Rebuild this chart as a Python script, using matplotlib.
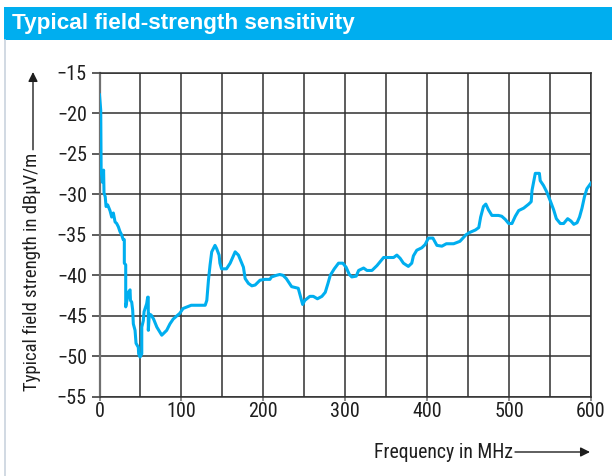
import matplotlib.pyplot as plt
from matplotlib.patches import Rectangle
from matplotlib.lines import Line2D

plt.rcParams['font.family'] = ['Roboto Condensed', 'Roboto', 'DejaVu Sans']

# frequency (MHz) and typical field strength (dBµV/m)
freq = [0, 1.5, 1.8, 2, 3.5, 5, 5.5, 7, 8, 10, 12.8, 14.9, 16.9, 19, 21, 23, 25, 27,
        29, 30.3, 30.3, 32, 32, 33.5, 35.2, 37.3, 37.8, 39.3, 40.5, 41.3, 43.4,
        44.6, 47.4, 47.8, 49.5, 51.6, 51.6, 53.5, 54.4, 57.6, 58.8, 59.5, 59.6,
        60.8, 63, 66, 70, 76, 82, 86, 90, 98, 102, 112, 129, 131, 133, 135, 137,
        141, 143, 146, 147, 149, 155, 159.5, 165.6, 169.6, 175.7, 177.8, 181.8,
        186, 190, 196, 202, 208, 210, 216, 220, 224, 228, 234.5, 242.6, 245.5,
        248, 250.6, 256.8, 261, 266, 271.5, 275.6, 278.9, 281.7, 286.6, 291.8,
        297, 301, 305, 308, 313.4, 316.3, 322.4, 326.5, 332.6, 338.7, 346.8, 359,
        363, 367, 371, 377, 381.2, 383.2, 387.3, 393.4, 397.5, 401.5, 407, 411.9,
        418, 423.4, 432.3, 440, 447.3, 452, 458.9, 463, 465.3, 468.7, 471.6,
        474.8, 479, 487, 491, 495.4, 499.5, 503.5, 507.6, 511.7, 517.8, 524, 527,
        528, 532, 537, 538, 542, 546, 550.3, 554.4, 557.7, 562.5, 566.6, 571.5,
        575.6, 579, 583, 586, 589, 592, 595, 600]
level = [-17.7, -19.6, -24, -27.0, -28.5, -27, -29.8, -30.3, -31.5, -31.3, -32,
         -32.8, -32.3, -33.4, -33.6, -34, -34.6, -35, -35.6, -35.6, -38.5, -38.7,
         -43.9, -43.1, -42.1, -41.8, -43.1, -43.3, -44.3, -46, -46.8, -48.4,
         -48.9, -49.7, -50.1, -49.7, -46.4, -45.6, -44.5, -43.5, -42.7, -42.7,
         -46.8, -44.8, -44.9, -45.4, -46.4, -47.4, -46.8, -46, -45.4, -44.7,
         -44.1, -43.7, -43.7, -43.1, -40.6, -38.7, -37.1, -36.3, -36.7, -37.5,
         -38.5, -39.2, -39.2, -38.5, -37.1, -37.5, -39, -40.4, -41, -41.3, -41.2,
         -40.6, -40.5, -40.5, -40.2, -40, -39.9, -40, -40.4, -41.4, -41.6, -42.7,
         -43.6, -43.1, -42.6, -42.6, -42.9, -42.6, -42.1, -41, -40, -39.2, -38.5,
         -38.5, -39, -39.9, -40.2, -40.1, -39.4, -39.1, -39.4, -39.4, -38.8,
         -37.8, -37.8, -37.5, -37.9, -38.5, -38.9, -38.5, -37.6, -36.9, -36.6,
         -36.2, -35.4, -35.4, -36.3, -36.4, -36.1, -36.1, -35.8, -35, -34.7,
         -34.4, -34.1, -32.8, -31.5, -31.2, -31.9, -32.6, -32.6, -32.7, -33.1,
         -33.6, -33.6, -32.7, -32, -31.7, -31.2, -30.9, -29.5, -27.4, -27.4,
         -28.3, -28.9, -29.7, -30.8, -31.9, -33, -33.6, -33.6, -33, -33.3, -33.7,
         -33.5, -32.8, -31.7, -30.3, -29.3, -28.6]

x_ticks = [0, 100, 200, 300, 400, 500, 600]
y_ticks = [-15, -20, -25, -30, -35, -40, -45, -50, -55]

W, H = 612, 476
blue = '#00aeef'
grid_col = '#303030'
txt_col = '#1e1e1e'

fig = plt.figure(figsize=(W / 100, H / 100), dpi=100)
fig.patch.set_facecolor('white')

# header bar and thin left border
fig.add_artist(Rectangle((4 / W, 1 - 40 / H), 1, 33 / H, transform=fig.transFigure,
                         facecolor=blue, edgecolor='none'))
fig.add_artist(Line2D([5 / W, 5 / W], [0, 1 - 40 / H], transform=fig.transFigure,
                      color='#c9d3de', lw=1.2))
fig.text(12 / W, 1 - 24 / H, 'Typical field-strength sensitivity', color='white',
         fontsize=16.2, fontweight='bold', va='center', ha='left',
         family=['Liberation Sans', 'DejaVu Sans'])

ax = fig.add_axes([99.5 / W, 1 - 396.7 / H, 491.5 / W, 323.7 / H])
ax.plot(freq, level, color=blue, lw=2.2, solid_joinstyle='round', zorder=3)

ax.set_xlim(0, 600)
ax.set_ylim(-55, -15)
ax.set_xticks(x_ticks)
ax.set_yticks(y_ticks)
ax.set_xticks(range(50, 600, 100), minor=True)
ax.grid(True, which='both', color=grid_col, lw=1.1)
for s in ax.spines.values():
    s.set_color(grid_col)
    s.set_linewidth(1.1)
ax.spines['left'].set_color('#707070')
ax.spines['left'].set_linewidth(1.6)
ax.tick_params(axis='y', length=6, width=1.1, color=grid_col, labelsize=14.5,
               pad=3, labelcolor=txt_col)
ax.tick_params(axis='x', which='major', length=3, width=1.1, color='#707070',
               labelsize=14.5, pad=1, labelcolor=txt_col)
ax.tick_params(axis='x', which='minor', length=0)

# axis labels, each followed by an arrow
ylab = fig.text(32 / W, 1 - 391 / H, 'Typical field strength in dBµV/m', rotation=90,
                ha='center', va='bottom', fontsize=13.5, color=txt_col)
xlab = fig.text(513 / W, 1 - 452 / H, 'Frequency in MHz', ha='right', va='center',
                fontsize=14.2, color=txt_col)
fig.canvas.draw()
yb = ylab.get_window_extent()
fig.add_artist(plt.Annotation('', xy=(33, H - 72), xytext=(33, yb.y1 + 3),
                              xycoords='figure pixels',
                              arrowprops=dict(arrowstyle='-|>', color=txt_col, lw=1,
                                              mutation_scale=14, shrinkA=0, shrinkB=0)))
fig.add_artist(plt.Annotation('', xy=(590, H - 452), xytext=(515, H - 452),
                              xycoords='figure pixels',
                              arrowprops=dict(arrowstyle='-|>', color=txt_col, lw=1,
                                              mutation_scale=14, shrinkA=0, shrinkB=0)))

fig.savefig('out.png', dpi=100)
